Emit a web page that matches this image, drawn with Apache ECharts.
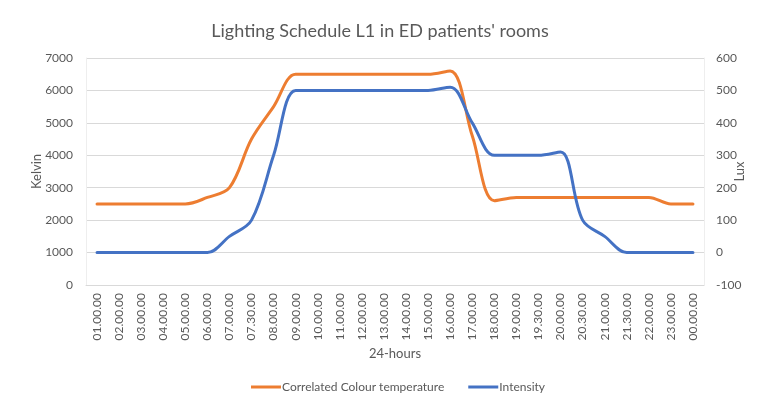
<!DOCTYPE html>
<html>
<head>
<meta charset="utf-8">
<script src="https://cdn.jsdelivr.net/npm/echarts@6/dist/echarts.min.js"></script>
<style>
  html, body { margin: 0; padding: 0; background: #ffffff; }
  #chart { width: 760px; height: 407px; }
</style>
</head>
<body>
<div id="chart"></div>
<script>
// Time-of-day slots of the schedule
const hours = ['01.00.00','02.00.00','03.00.00','04.00.00','05.00.00','06.00.00','07.00.00','07.30.00',
  '08.00.00','09.00.00','10.00.00','11.00.00','12.00.00','13.00.00','14.00.00','15.00.00','16.00.00',
  '17.00.00','18.00.00','19.00.00','19.30.00','20.00.00','20.30.00','21.00.00','21.30.00','22.00.00',
  '23.00.00','00.00.00'];

// Correlated colour temperature (Kelvin)
const cctKelvin = [2500,2500,2500,2500,2500,2700,3000,4500,5500,6500,6500,6500,6500,6500,6500,6500,6600,
  4600,2600,2700,2700,2700,2700,2700,2700,2700,2500,2500];

// Intensity (Lux)
const intensityLux = [0,0,0,0,0,0,50,100,300,500,500,500,500,500,500,500,510,
  400,300,300,300,310,100,50,0,0,0,0];

const textColor = '#595959';
const gridColor = '#d9d9d9';
const fontFamily = 'Lato, "Open Sans", sans-serif';

const chart = echarts.init(document.getElementById('chart'), null, { renderer: 'canvas' });

chart.setOption({
  animation: false,
  backgroundColor: '#ffffff',
  textStyle: { fontFamily: fontFamily },
  title: {
    text: "Lighting Schedule L1 in ED patients' rooms",
    left: 'center',
    top: 17,
    textStyle: { fontFamily: fontFamily, fontSize: 18, fontWeight: 'normal', color: textColor }
  },
  legend: {
    bottom: 9,
    left: 246,
    itemWidth: 30,
    itemHeight: 3,
    itemGap: 24,
    icon: 'rect',
    textStyle: { fontFamily: fontFamily, fontSize: 12, color: textColor, padding: [0, 0, 0, -4] },
    data: ['Correlated Colour temperature', 'Intensity']
  },
  grid: { left: 86, right: 56, top: 58, bottom: 122, containLabel: false, outerBoundsMode: 'none' },
  xAxis: {
    type: 'category',
    data: hours,
    boundaryGap: true,
    name: '24-hours',
    nameLocation: 'middle',
    nameGap: 62,
    nameMoveOverlap: false,
    nameTextStyle: { fontFamily: fontFamily, fontSize: 13, color: textColor },
    axisLine: { show: true, lineStyle: { color: gridColor } },
    axisTick: { show: false },
    axisLabel: { rotate: 90, interval: 0, fontSize: 12, color: textColor, margin: 8, fontFamily: fontFamily }
  },
  yAxis: [
    {
      type: 'value',
      min: 0, max: 7000, interval: 1000,
      name: 'Kelvin',
      nameLocation: 'middle',
      nameRotate: 90,
      nameGap: 43,
      nameMoveOverlap: false,
      nameTextStyle: { fontFamily: fontFamily, fontSize: 13, color: textColor },
      axisLine: { show: true, lineStyle: { color: '#eeeeee' } },
      axisTick: { show: false },
      axisLabel: { fontSize: 12, color: textColor, margin: 13, fontFamily: fontFamily,
        formatter: function (v) { return String(v); } },
      splitLine: { show: true, lineStyle: { color: gridColor, width: 1 } }
    },
    {
      type: 'value',
      min: -100, max: 600, interval: 100,
      name: 'Lux',
      nameLocation: 'middle',
      nameRotate: 90,
      nameGap: 29,
      nameMoveOverlap: false,
      nameTextStyle: { fontFamily: fontFamily, fontSize: 13, color: textColor },
      axisLine: { show: true, lineStyle: { color: '#eeeeee' } },
      axisTick: { show: false },
      axisLabel: { fontSize: 12, color: textColor, margin: 12, fontFamily: fontFamily,
        formatter: function (v) { return String(v); } },
      splitLine: { show: false }
    }
  ],
  series: [
    {
      name: 'Correlated Colour temperature',
      type: 'line',
      yAxisIndex: 0,
      data: cctKelvin,
      smooth: 0.35,
      showSymbol: false,
      symbol: 'none',
      color: '#ED7D31',
      lineStyle: { width: 3, color: '#ED7D31', cap: 'round', join: 'round' }
    },
    {
      name: 'Intensity',
      type: 'line',
      yAxisIndex: 1,
      data: intensityLux,
      smooth: 0.35,
      showSymbol: false,
      symbol: 'none',
      color: '#4472C4',
      lineStyle: { width: 3, color: '#4472C4', cap: 'round', join: 'round' }
    }
  ]
});
</script>
</body>
</html>
